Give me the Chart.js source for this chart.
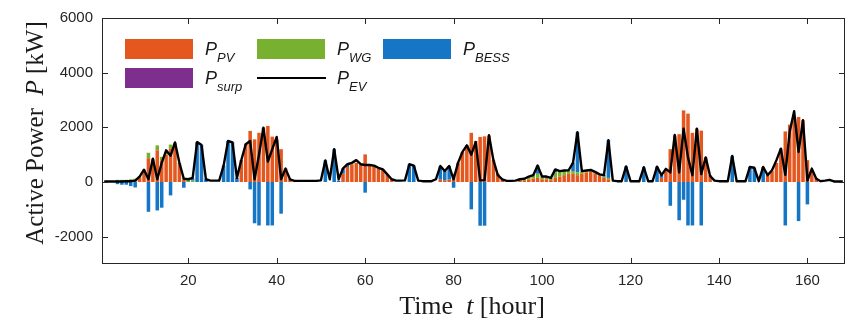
<!DOCTYPE html>
<html><head><meta charset="utf-8">
<script src="https://cdn.jsdelivr.net/npm/chart.js@4/dist/chart.umd.min.js"></script>
<style>html,body{margin:0;padding:0;background:#fff;}#wrap{width:851px;height:324px;}</style>
</head><body><div id="wrap"><canvas id="c" width="851" height="324"></canvas></div>
<script>
const hours = [
1,2,3,4,5,6,7,8,9,10,11,12,13,14,15,16,17,18,19,20,21,22,23,24,
25,26,27,28,29,30,31,32,33,34,35,36,37,38,39,40,41,42,43,44,45,46,47,48,
49,50,51,52,53,54,55,56,57,58,59,60,61,62,63,64,65,66,67,68,69,70,71,72,
73,74,75,76,77,78,79,80,81,82,83,84,85,86,87,88,89,90,91,92,93,94,95,96,
97,98,99,100,101,102,103,104,105,106,107,108,109,110,111,112,113,114,115,116,117,118,119,120,
121,122,123,124,125,126,127,128,129,130,131,132,133,134,135,136,137,138,139,140,141,142,143,144,
145,146,147,148,149,150,151,152,153,154,155,156,157,158,159,160,161,162,163,164,165,166,167,168];

const pPV = [
0,0,0,0,0,0,0,0,150,400,870,800,
1160,790,1000,1220,1350,650,100,0,0,0,0,0,
0,0,0,0,0,0,0,800,1400,1870,1560,1800,
1990,2050,1660,1550,1200,500,100,0,0,0,0,0,
0,0,0,0,0,0,300,550,650,700,650,1010,
620,600,520,450,280,100,0,0,0,0,0,0,
0,0,0,0,85,50,85,300,700,1100,1340,1800,
1500,1650,1670,1700,800,300,100,0,0,0,50,40,
100,130,150,100,100,70,150,200,250,300,300,250,
300,350,380,320,250,150,100,0,0,0,0,0,
0,0,0,0,0,0,150,480,1200,1700,1750,2620,
2500,1800,1950,1880,900,250,0,0,0,0,0,0,
0,0,0,0,0,0,250,400,700,1220,1850,2100,
2400,2380,2260,800,400,150,0,0,0,0,0,0];

const pWG = [
0,0,30,80,80,80,100,120,60,50,200,50,
180,130,100,150,80,50,50,80,50,0,0,0,
0,0,0,0,0,0,0,0,0,0,0,0,
0,0,0,0,0,0,0,0,0,0,0,0,
0,0,0,0,0,0,0,0,0,0,0,0,
0,0,0,0,0,0,0,0,0,0,0,0,
0,0,0,0,0,0,0,0,0,0,0,0,
0,0,0,0,0,0,0,0,0,0,50,80,
100,120,150,100,100,80,200,200,150,120,100,100,
80,60,60,50,30,50,50,0,0,0,0,0,
0,0,0,0,0,0,0,0,0,0,0,0,
0,0,0,0,0,0,0,0,0,0,0,0,
0,0,0,0,0,0,0,0,0,0,0,0,
0,0,0,0,0,0,0,0,0,0,0,0];

const pBESS = [
0,0,0,-80,-100,-100,-150,-200,0,0,-1090,0,
-1040,-940,0,-490,0,0,-210,0,80,1460,1350,100,
0,0,0,600,1500,1450,150,0,0,-270,-1510,-1590,
0,-1590,-1590,0,-1160,0,0,0,0,0,0,0,
0,0,790,0,1200,50,200,100,0,0,0,-390,
0,0,0,0,0,0,0,0,0,650,600,0,
0,0,0,0,500,350,500,-210,0,0,0,-1000,
0,-1600,-1600,0,0,0,0,0,0,0,0,0,
0,0,300,0,0,0,110,0,0,0,300,1470,
0,0,0,0,0,50,1380,0,0,0,570,0,
0,0,540,0,0,560,100,0,-870,0,-1400,-650,
-1590,-1590,0,-1590,0,0,0,0,0,0,950,0,
0,0,550,520,0,550,0,0,0,0,-1590,0,
0,-1430,0,-820,0,0,0,0,0,0,0,0];

const pSurp = [
0,0,0,0,0,0,0,0,0,0,0,0,
0,0,0,0,0,0,0,0,0,0,0,0,
0,0,0,0,0,0,0,0,0,0,0,0,
0,0,0,0,0,0,0,0,0,0,0,0,
0,0,0,0,0,0,0,0,0,0,0,0,
0,0,0,0,0,0,0,0,0,0,0,0,
0,0,0,0,0,0,0,0,0,0,0,0,
0,0,0,0,0,0,0,0,0,0,0,0,
0,0,0,0,0,0,0,0,0,0,0,0,
0,0,0,0,0,0,0,0,0,0,0,0,
0,0,0,0,0,0,0,0,0,0,0,0,
0,0,0,0,0,0,0,0,0,0,0,0,
0,0,0,0,0,0,0,0,0,0,0,0,
0,0,0,0,0,0,0,0,0,0,0,0];

const pEV = [
20,20,20,20,20,30,30,50,200,450,100,850,
100,700,1160,960,1450,700,120,100,150,1460,1350,100,
50,50,50,600,1500,1450,150,800,1380,1500,100,1000,
1990,750,1200,1650,100,490,100,40,40,40,40,40,
40,60,790,100,1200,100,500,650,700,800,650,620,
620,600,520,460,280,100,50,50,60,650,600,50,
30,30,30,100,585,400,585,100,700,1100,1340,1000,
1460,60,70,1710,800,250,100,40,40,50,100,120,
200,250,600,200,200,150,460,400,420,430,700,1820,
400,420,440,370,280,250,1530,50,30,30,570,30,
30,30,540,30,30,560,250,480,350,1720,350,1950,
900,250,1950,290,900,220,50,30,30,30,950,30,
30,30,550,520,30,550,250,430,800,1220,260,1850,
2590,1100,2260,50,490,120,30,50,80,20,20,20];

const xTickLabels = [20,40,60,80,100,120,140,160];
const yTickValues = [-2000,0,2000,4000,6000];
const colors = {PV:'#E4581F', WG:'#78B12F', BESS:'#1576C6', surp:'#7E2F8E', EV:'#000000'};

const AX = '#262626';

const overlay = {
  id:'overlay',
  afterDraw(chart){
    const {ctx, chartArea:a, scales:{x,y}} = chart;
    ctx.save();
    ctx.strokeStyle = AX; ctx.lineWidth = 1;
    ctx.strokeRect(Math.round(a.left)+0.5, Math.round(a.top)+0.5, Math.round(a.right-a.left)-1, Math.round(a.bottom-a.top)-1);
    ctx.beginPath();
    xTickLabels.forEach(v=>{
      const px = Math.round(x.getPixelForValue(hours.indexOf(v)))+0.5;
      ctx.moveTo(px,a.bottom); ctx.lineTo(px,a.bottom-6);
      ctx.moveTo(px,a.top); ctx.lineTo(px,a.top+6);
    });
    yTickValues.forEach(v=>{
      const py = Math.round(y.getPixelForValue(v))+0.5;
      ctx.moveTo(a.left,py); ctx.lineTo(a.left+6,py);
      ctx.moveTo(a.right,py); ctx.lineTo(a.right-6,py);
    });
    ctx.stroke();

    ctx.fillStyle = '#1a1a1a';
    ctx.textBaseline = 'alphabetic';
    function drawParts(parts, cx, cy, rot){
      ctx.save();
      ctx.translate(cx, cy);
      if (rot) ctx.rotate(-Math.PI/2);
      let total = 0;
      parts.forEach(p=>{ ctx.font = p.f; p.w = ctx.measureText(p.t).width; total += p.w; });
      let xx = -total/2;
      parts.forEach(p=>{ ctx.font = p.f; ctx.fillText(p.t, xx, 0); xx += p.w; });
      ctx.restore();
    }
    const serif = '"Liberation Serif", "Times New Roman", serif';
    drawParts([
      {t:'Time  ', f:'26px '+serif},
      {t:'t', f:'italic 26px '+serif},
      {t:' [hour]', f:'26px '+serif}
    ], 472, 314, false);
    drawParts([
      {t:'Active Power  ', f:'25px '+serif},
      {t:'P', f:'italic 25px '+serif},
      {t:' [kW]', f:'25px '+serif}
    ], 43, 133, true);

    const sans = '"Liberation Sans", Arial, sans-serif';
    const items = [
      {s:'PV', type:'bar', x:125, y:39},
      {s:'WG', type:'bar', x:257, y:39},
      {s:'BESS', type:'bar', x:383, y:39},
      {s:'surp', type:'bar', x:125, y:68},
      {s:'EV', type:'line', x:257, y:68}
    ];
    items.forEach(it=>{
      const c = colors[it.s];
      if (it.type === 'bar') {
        ctx.fillStyle = c;
        ctx.fillRect(it.x, it.y, 68, 20);
      } else {
        ctx.strokeStyle = c; ctx.lineWidth = 2;
        ctx.beginPath(); ctx.moveTo(it.x, it.y+10); ctx.lineTo(it.x+69, it.y+10); ctx.stroke();
      }
      ctx.fillStyle = '#1a1a1a';
      ctx.font = 'italic 18px '+sans;
      const tx = it.x + 80;
      ctx.fillText('P', tx, it.y+16);
      const pw = ctx.measureText('P').width;
      ctx.font = 'italic 13px '+sans;
      ctx.fillText(it.s, tx+pw, it.y+23);
    });
    ctx.restore();
  }
};

const barCommon = {type:'bar', barPercentage:0.8, categoryPercentage:1.0, borderWidth:0, stack:'s', order:2};

new Chart(document.getElementById('c').getContext('2d'), {
  data: {
    labels: hours,
    datasets: [
      Object.assign({label:'P_PV', data:pPV, backgroundColor:colors.PV}, barCommon),
      Object.assign({label:'P_WG', data:pWG, backgroundColor:colors.WG}, barCommon),
      Object.assign({label:'P_BESS', data:pBESS, backgroundColor:colors.BESS}, barCommon),
      Object.assign({label:'P_surp', data:pSurp, backgroundColor:colors.surp}, barCommon),
      {type:'line', label:'P_EV', data:pEV, borderColor:colors.EV, borderWidth:2.4, pointRadius:0, tension:0, fill:false, stack:'ev', order:0, borderJoinStyle:'round'}
    ]
  },
  options: {
    responsive:false, animation:false, devicePixelRatio:1,
    layout:{padding:{left:0, right:6, top:18, bottom:0}},
    plugins:{legend:{display:false}, tooltip:{enabled:false}},
    scales:{
      x:{type:'category', stacked:true, offset:true,
         grid:{display:false, drawTicks:false}, border:{display:false},
         ticks:{autoSkip:false, maxRotation:0, minRotation:0, padding:8, color:AX,
           font:{family:'"Liberation Sans", Arial, sans-serif', size:15},
           callback:(val, idx)=> xTickLabels.includes(hours[idx]) ? String(hours[idx]) : null},
         afterFit:(s)=>{ s.height = 60; }
      },
      y:{type:'linear', stacked:true, min:-3000, max:6000,
         grid:{display:false, drawTicks:false}, border:{display:false},
         afterBuildTicks:(s)=>{ s.ticks = yTickValues.map(v=>({value:v})); },
         ticks:{padding:9, color:AX, font:{family:'"Liberation Sans", Arial, sans-serif', size:15},
           callback:(v)=> String(v)},
         afterFit:(s)=>{ s.width = 102; }
      }
    }
  },
  plugins:[overlay]
});
</script></body></html>
